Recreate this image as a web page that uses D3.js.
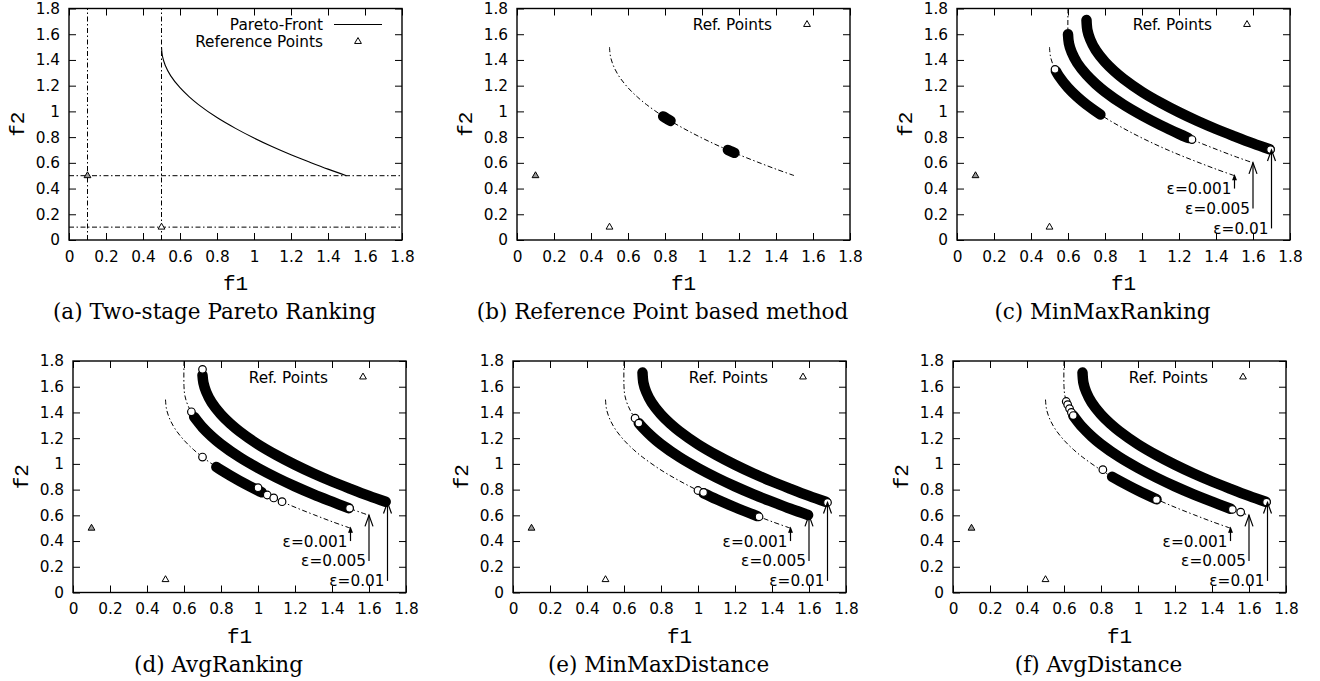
<!DOCTYPE html>
<html><head><meta charset="utf-8">
<script src="https://cdn.jsdelivr.net/npm/d3@7"></script>
<style>body{margin:0;background:#fff} svg{display:block}</style>
</head><body>
<svg id="chart" width="1320" height="681"></svg>
<script>
// ---------------- data ----------------
const xTicks = [0, 0.2, 0.4, 0.6, 0.8, 1, 1.2, 1.4, 1.6, 1.8];
const xTickLabels = ["0", "0.2", "0.4", "0.6", "0.8", "1", "1.2", "1.4", "1.6", "1.8"];
const yTicks = [0, 0.2, 0.4, 0.6, 0.8, 1, 1.2, 1.4, 1.6, 1.8];
const yTickLabels = ["0", "0.2", "0.4", "0.6", "0.8", "1", "1.2", "1.4", "1.6", "1.8"];
const captions = ["(a) Two-stage Pareto Ranking", "(b) Reference Point based method", "(c) MinMaxRanking",
                  "(d) AvgRanking", "(e) MinMaxDistance", "(f) AvgDistance"];
const xLabel = "f1";
const yLabel = "f2";

const refPoints = [[0.1, 0.5], [0.5, 0.1]];
const refLinesX = [0.1, 0.5];
const refLinesY = [0.5, 0.1];

// Pareto front (epsilon = 0.001) and shifted fronts
const paretoFront = [[0.5,1.5],[0.505,1.429],[0.52,1.359],[0.55,1.276],[0.6,1.184],[0.65,1.113],[0.7,1.053],
  [0.8,0.952],[0.9,0.868],[1.0,0.793],[1.1,0.725],[1.2,0.663],[1.3,0.606],[1.4,0.551],[1.5,0.5]];
const front005 = [[0.6,1.8],[0.6,1.6],[0.605,1.529],[0.62,1.459],[0.65,1.376],[0.7,1.284],[0.75,1.213],[0.8,1.153],
  [0.9,1.052],[1.0,0.968],[1.1,0.893],[1.2,0.825],[1.3,0.763],[1.4,0.706],[1.5,0.651],[1.6,0.6]];
const front01 = [[0.7,1.7],[0.705,1.629],[0.72,1.559],[0.75,1.476],[0.8,1.384],[0.85,1.313],[0.9,1.253],
  [1.0,1.152],[1.1,1.068],[1.2,0.993],[1.3,0.925],[1.4,0.863],[1.5,0.806],[1.6,0.751],[1.7,0.7]];

const arrowLabels = ["\u03b5=0.001", "\u03b5=0.005", "\u03b5=0.01"];
const arrowX = [1.5, 1.6, 1.7];
const arrowFrom = [0.4, 0.245, 0.09];
const arrowTo = [0.5, 0.6, 0.7];

// solutions found (dense bands) and isolated solutions (circles)
const band01 = [[0.7,1.71],[0.705,1.63],[0.72,1.56],[0.75,1.476],[0.8,1.384],[0.85,1.313],[0.9,1.253],
  [1.0,1.152],[1.1,1.068],[1.2,0.993],[1.3,0.925],[1.4,0.863],[1.5,0.806],[1.6,0.751],[1.69,0.705]];

const bandsB = [
  [[0.79,0.961],[0.81,0.942],[0.83,0.926]],
  [[1.14,0.70],[1.16,0.687],[1.175,0.678]]
];
const circlesB = [];

const bandsC = [
  [[0.535,1.313],[0.55,1.276],[0.6,1.184],[0.65,1.113],[0.7,1.053],[0.775,0.976]],
  [[0.6,1.6],[0.605,1.529],[0.62,1.459],[0.65,1.376],[0.7,1.284],[0.75,1.213],[0.8,1.153],[0.9,1.052],
   [1.0,0.968],[1.1,0.893],[1.2,0.825],[1.25,0.793]],
  band01
];
const circlesC = [[0.53,1.327],[1.27,0.781],[1.695,0.703]];

const bandsD = [
  [[0.775,0.976],[0.8,0.952],[0.9,0.868],[1.0,0.793],[1.02,0.779]],
  [[0.655,1.365],[0.7,1.284],[0.75,1.213],[0.8,1.153],[0.9,1.052],[1.0,0.968],[1.1,0.893],[1.2,0.825],
   [1.3,0.763],[1.4,0.706],[1.49,0.656]],
  [[0.7,1.69],[0.705,1.63],[0.72,1.56],[0.75,1.476],[0.8,1.384],[0.85,1.313],[0.9,1.253],
   [1.0,1.152],[1.1,1.068],[1.2,0.993],[1.3,0.925],[1.4,0.863],[1.5,0.806],[1.6,0.751],[1.69,0.705]]
];
const circlesD = [[0.7,1.735],[0.64,1.405],[0.7,1.053],[1.0,0.815],[1.05,0.758],[1.085,0.735],[1.13,0.706],[1.495,0.655]];

const bandsE = [
  [[1.03,0.772],[1.1,0.725],[1.2,0.663],[1.32,0.594]],
  [[0.68,1.317],[0.7,1.284],[0.75,1.213],[0.8,1.153],[0.9,1.052],[1.0,0.968],[1.1,0.893],[1.2,0.825],
   [1.3,0.763],[1.4,0.706],[1.5,0.651],[1.595,0.603]],
  band01
];
const circlesE = [[0.66,1.355],[0.68,1.317],[1.0,0.793],[1.03,0.778],[1.33,0.589],[1.7,0.7]];

const bandsF = [
  [[0.86,0.9],[0.9,0.868],[1.0,0.793],[1.1,0.725]],
  [[0.65,1.376],[0.7,1.284],[0.75,1.213],[0.8,1.153],[0.9,1.052],[1.0,0.968],[1.1,0.893],[1.2,0.825],
   [1.3,0.763],[1.4,0.706],[1.5,0.651]],
  band01
];
const circlesF = [[0.612,1.485],[0.62,1.46],[0.63,1.43],[0.64,1.40],[0.65,1.376],[0.81,0.955],[1.1,0.722],
  [1.51,0.646],[1.555,0.625],[1.695,0.703]];

// ---------------- layout ----------------
const PW = 333, PH = 231.5;
const panels = [
  {left: 69,  top: 8.5, kind: "a"},
  {left: 517, top: 8.5, kind: "b", bands: bandsB, circles: circlesB},
  {left: 957, top: 8.5, kind: "eps", bands: bandsC, circles: circlesC},
  {left: 73,  top: 361, kind: "eps", bands: bandsD, circles: circlesD},
  {left: 513, top: 361, kind: "eps", bands: bandsE, circles: circlesE},
  {left: 953, top: 361, kind: "eps", bands: bandsF, circles: circlesF}
];

const svg = d3.select("#chart");
svg.append("rect").attr("width", 1320).attr("height", 681).attr("fill", "#fff");

const sansFont = "DejaVu Sans, sans-serif";
const DASHDOT = "5,2.5,1.5,2.5";

panels.forEach((p, pi) => {
  const g = svg.append("g").attr("transform", `translate(${p.left},${p.top})`);
  const x = d3.scaleLinear().domain([0, 1.8]).range([0, PW]);
  const y = d3.scaleLinear().domain([0, 1.8]).range([PH, 0]);
  const line = d3.line().x(d => x(d[0])).y(d => y(d[1])).curve(d3.curveCatmullRom.alpha(0.5));

  const clipId = "clip" + pi;
  g.append("clipPath").attr("id", clipId).append("rect").attr("width", PW).attr("height", PH);
  const plot = g.append("g").attr("clip-path", `url(#${clipId})`);

  // axes with inward ticks on all four sides
  const styleAxis = sel => {
    sel.select(".domain").remove();
    sel.attr("font-family", sansFont).attr("font-size", 15.3);
    sel.selectAll(".tick line").attr("stroke", "#000").attr("stroke-width", 1);
    sel.selectAll(".tick text").attr("fill", "#000");
  };
  g.append("g").attr("transform", `translate(0,${PH})`)
    .call(d3.axisBottom(x).tickValues(xTicks).tickFormat((d, i) => xTickLabels[i]).tickSize(-7).tickPadding(11))
    .call(styleAxis);
  g.append("g")
    .call(d3.axisLeft(y).tickValues(yTicks).tickFormat((d, i) => yTickLabels[i]).tickSize(-7).tickPadding(9))
    .call(styleAxis);
  g.append("g")
    .call(d3.axisTop(x).tickValues(xTicks).tickFormat("").tickSize(-7))
    .call(styleAxis);
  g.append("g").attr("transform", `translate(${PW},0)`)
    .call(d3.axisRight(y).tickValues(yTicks).tickFormat("").tickSize(-7))
    .call(styleAxis);

  if (p.kind === "a") {
    refLinesX.forEach(v => plot.append("line").attr("x1", x(v)).attr("x2", x(v)).attr("y1", y(0)).attr("y2", y(1.8))
      .attr("stroke", "#000").attr("stroke-width", 1).attr("stroke-dasharray", DASHDOT));
    refLinesY.forEach(v => plot.append("line").attr("x1", x(0)).attr("x2", x(1.8)).attr("y1", y(v)).attr("y2", y(v))
      .attr("stroke", "#000").attr("stroke-width", 1).attr("stroke-dasharray", DASHDOT));
    plot.append("path").attr("d", line(paretoFront)).attr("fill", "none").attr("stroke", "#000").attr("stroke-width", 1.1);
  } else {
    const fronts = p.kind === "b" ? [paretoFront] : [paretoFront, front005, front01];
    fronts.forEach(f => plot.append("path").attr("d", line(f)).attr("fill", "none")
      .attr("stroke", "#000").attr("stroke-width", 1).attr("stroke-dasharray", DASHDOT));
    p.bands.forEach(b => plot.append("path").attr("d", line(b)).attr("fill", "none")
      .attr("stroke", "#000").attr("stroke-width", 10.5).attr("stroke-linecap", "round").attr("stroke-linejoin", "round"));
    plot.selectAll("circle.sol").data(p.circles).join("circle").attr("class", "sol")
      .attr("cx", d => x(d[0])).attr("cy", d => y(d[1])).attr("r", 3.8)
      .attr("fill", "#fff").attr("stroke", "#000").attr("stroke-width", 1.2);
  }

  // reference points
  const tri = d3.symbol().type(d3.symbolTriangle).size(20);
  plot.selectAll("path.ref").data(refPoints).join("path").attr("class", "ref")
    .attr("transform", d => `translate(${x(d[0])},${y(d[1])})`).attr("d", tri)
    .attr("fill", (d, i) => i === 0 ? "#999" : "#fff").attr("stroke", "#000").attr("stroke-width", 1);

  // epsilon arrows
  if (p.kind === "eps") {
    arrowLabels.forEach((lab, i) => {
      const ax = x(arrowX[i]), y0 = y(arrowFrom[i]), y1 = y(arrowTo[i]);
      g.append("line").attr("x1", ax).attr("x2", ax).attr("y1", y0).attr("y2", y1)
        .attr("stroke", "#000").attr("stroke-width", 1.2);
      const len = i === 0 ? 4 : 11, hw = i === 0 ? 1.6 : 4;
      g.append("path").attr("d", `M${ax - hw},${y1 + len}L${ax},${y1}L${ax + hw},${y1 + len}` + (i === 0 ? "Z" : ""))
        .attr("fill", i === 0 ? "#000" : "none").attr("stroke", "#000").attr("stroke-width", 1.2);
      g.append("text").attr("x", ax - 3).attr("y", y0).attr("dy", "0.36em").attr("text-anchor", "end")
        .attr("font-family", sansFont).attr("font-size", 15.3).attr("fill", "#000").text(lab);
    });
  }

  // frame
  g.append("rect").attr("width", PW).attr("height", PH).attr("fill", "none").attr("stroke", "#000").attr("stroke-width", 1.4);

  // legend
  const lg = g.append("g").attr("font-family", sansFont).attr("font-size", 15.3).attr("fill", "#000");
  if (p.kind === "a") {
    lg.append("text").attr("x", PW - 79).attr("y", 16).attr("dy", "0.36em").attr("text-anchor", "end").text("Pareto-Front");
    lg.append("line").attr("x1", PW - 68).attr("x2", PW - 20).attr("y1", 16).attr("y2", 16).attr("stroke", "#000").attr("stroke-width", 1.1);
    lg.append("text").attr("x", PW - 79).attr("y", 33).attr("dy", "0.36em").attr("text-anchor", "end").text("Reference Points");
    lg.append("path").attr("transform", `translate(${PW - 44},33)`).attr("d", tri).attr("fill", "#fff").attr("stroke", "#000");
  } else {
    lg.append("text").attr("x", PW - 78).attr("y", 16).attr("dy", "0.36em").attr("text-anchor", "end").text("Ref. Points");
    lg.append("path").attr("transform", `translate(${PW - 43},16)`).attr("d", tri).attr("fill", "#fff").attr("stroke", "#000");
  }

  // axis titles
  g.append("text").attr("x", PW / 2).attr("y", PH + 50).attr("text-anchor", "middle")
    .attr("font-family", "Liberation Mono, monospace").attr("font-size", 21).attr("fill", "#000").text(xLabel);
  g.append("text").attr("transform", `translate(-52,${PH / 2}) rotate(-90)`).attr("dy", "0.35em").attr("text-anchor", "middle")
    .attr("font-family", "Liberation Mono, monospace").attr("font-size", 21).attr("fill", "#000").text(yLabel);

  // caption
  g.append("text").attr("x", PW / 2 - 21).attr("y", PH + 79).attr("text-anchor", "middle")
    .attr("font-family", "DejaVu Serif, serif").attr("font-size", 21.5).attr("fill", "#000").text(captions[pi]);
});
</script>
</body></html>
